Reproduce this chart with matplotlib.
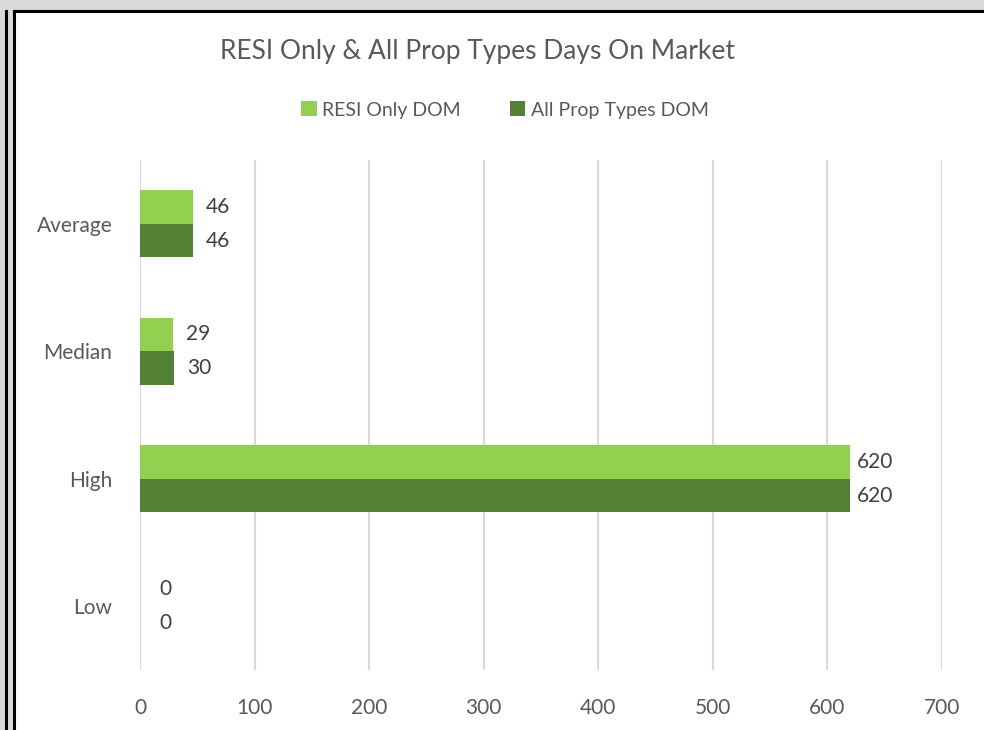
# RESI vs all property types, days on market

import matplotlib.pyplot as plt
from matplotlib.patches import Rectangle
import numpy as np

plt.rcParams['font.family'] = ['Lato', 'DejaVu Sans']

categories = ['Low', 'High', 'Median', 'Average']
resi_dom = [0, 620, 29, 46]
all_dom = [0, 620, 30, 46]
xticks = [0, 100, 200, 300, 400, 500, 600, 700]

W, H = 984, 730
fig = plt.figure(figsize=(W / 100, H / 100), dpi=100)
fig.patch.set_facecolor('#d9d9d9')

# white chart area with black frame on left and top
fig.patches.append(Rectangle((14 / W, 0), 1 - 14 / W, 1 - 11 / H, transform=fig.transFigure,
                             facecolor='white', edgecolor='none', zorder=-5))
fig.add_artist(plt.Line2D([14 / W, 14 / W], [0, 1 - 11 / H], color='black', lw=2.2, transform=fig.transFigure))
fig.add_artist(plt.Line2D([14 / W, 1], [1 - 11 / H, 1 - 11 / H], color='black', lw=2.2, transform=fig.transFigure))
fig.add_artist(plt.Line2D([5.5 / W, 5.5 / W], [0, 1 - 11 / H], color='black', lw=2.2, transform=fig.transFigure))

ax = fig.add_axes([140 / W, 60 / H, 802 / W, 510 / H])
ax.set_facecolor('none')

y = np.arange(len(categories))
h = 0.263
light = '#92d050'
dark = '#548235'
txt = '#595959'

b1 = ax.barh(y + h / 2, resi_dom, height=h, color=light, label='RESI Only DOM', zorder=3)
b2 = ax.barh(y - h / 2, all_dom, height=h, color=dark, label='All Prop Types DOM', zorder=3)

def autolabel(rects):
    for rect in rects:
        w = rect.get_width()
        ax.annotate(str(int(w)), (w, rect.get_y() + rect.get_height() / 2),
                    xytext=(18, 0), textcoords='offset points', ha='center', va='center',
                    fontsize=15, color='#404040')

autolabel(b1)
autolabel(b2)

ax.set_xlim(0, 700)
ax.set_ylim(-0.5, 3.5)
ax.set_xticks(xticks)
ax.set_yticks(y)
ax.set_yticklabels(categories)
ax.tick_params(length=0, labelsize=15, colors=txt)
ax.tick_params(axis='x', pad=20)
ax.tick_params(axis='y', pad=20)
ax.grid(axis='x', color='#d9d9d9', lw=1.5, zorder=0)
for s in ax.spines.values():
    s.set_visible(False)

fig.text(478 / W, 1 - 52 / H, 'RESI Only & All Prop Types Days On Market', ha='center', va='center',
         fontsize=19, color=txt)
fig.legend(loc='center', bbox_to_anchor=(505 / W, 1 - 110 / H), ncol=2, frameon=False,
           fontsize=14, labelcolor=txt, handlelength=0.8, handleheight=0.8, columnspacing=2.5,
           handletextpad=0.3)

fig.savefig('out.png', dpi=100, facecolor=fig.get_facecolor())
